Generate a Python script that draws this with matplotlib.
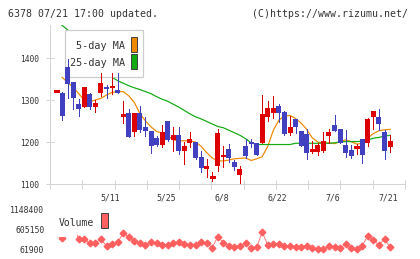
import matplotlib
matplotlib.use("Agg")
import matplotlib.pyplot as plt
import numpy as np
from matplotlib.patches import Rectangle

# ---------------- data ----------------
dates = ["5/11", "5/25", "6/8", "6/22", "7/6", "7/21"]
date_idx = [10, 20, 30, 40, 50, 60]

opens = [1321, 1317, 1379, 1344, 1290, 1284, 1314, 1284, 1317, 1330,
         1329, 1324, 1260, 1268, 1223, 1269, 1236, 1226, 1209, 1193,
         1250, 1205, 1217, 1179, 1198, 1201, 1165, 1135, 1117, 1143,
         1165, 1183, 1153, 1121, 1190, 1201, 1198, 1198, 1260, 1270,
         1286, 1271, 1222, 1255, 1226, 1219, 1181, 1177, 1179, 1215,
         1240, 1231, 1193, 1181, 1187, 1207, 1198, 1260, 1260, 1223, 1189]
highs = [1321, 1320, 1398, 1344, 1302, 1330, 1317, 1300, 1365, 1336,
         1365, 1364, 1298, 1279, 1268, 1286, 1260, 1226, 1214, 1240,
         1250, 1236, 1236, 1201, 1223, 1201, 1178, 1160, 1129, 1231,
         1190, 1195, 1157, 1143, 1206, 1206, 1198, 1312, 1298, 1310,
         1290, 1274, 1263, 1255, 1226, 1230, 1202, 1197, 1225, 1230,
         1264, 1231, 1229, 1193, 1195, 1207, 1258, 1274, 1279, 1229, 1217]
lows = [1321, 1252, 1304, 1279, 1263, 1284, 1279, 1272, 1310, 1304,
        1314, 1316, 1246, 1213, 1215, 1223, 1214, 1175, 1190, 1189,
        1203, 1179, 1172, 1148, 1189, 1159, 1129, 1117, 1108, 1132,
        1140, 1153, 1133, 1095, 1161, 1189, 1169, 1198, 1251, 1256,
        1247, 1216, 1217, 1221, 1190, 1160, 1173, 1170, 1177, 1197,
        1227, 1197, 1165, 1163, 1171, 1151, 1191, 1232, 1229, 1160, 1177]
closes = [1321, 1262, 1338, 1304, 1279, 1330, 1284, 1292, 1341, 1326,
          1333, 1316, 1267, 1213, 1268, 1229, 1227, 1191, 1193, 1223,
          1205, 1217, 1179, 1190, 1207, 1161, 1137, 1143, 1117, 1222,
          1169, 1161, 1140, 1136, 1167, 1195, 1169, 1267, 1280, 1280,
          1268, 1219, 1235, 1235, 1191, 1175, 1181, 1194, 1202, 1225,
          1227, 1197, 1173, 1167, 1187, 1169, 1255, 1274, 1242, 1179, 1203]

ma5 = [np.nan, 1354, 1342, 1330, 1315, 1300, 1296, 1300, 1304, 1312,
       1318, 1320, 1320, 1310, 1294, 1268, 1250, 1236, 1225, 1222,
       1215, 1205, 1203, 1203, 1203, 1200, 1190, 1175, 1162, 1155,
       1155, 1157, 1160, 1161, 1162, 1156, 1160, 1165, 1190, 1228,
       1252, 1262, 1263, 1256, 1245, 1230, 1210, 1200, 1197, 1198,
       1196, 1201, 1205, 1201, 1195, 1197, 1210, 1220, 1227, 1229, 1230]
ma25 = [1488, 1478, 1467, np.nan, np.nan, np.nan, np.nan, np.nan, np.nan, np.nan,
        1354, 1346, 1340, 1334, 1329, 1325, 1320, 1315, 1308, 1302,
        1297, 1290, 1283, 1275, 1267, 1260, 1255, 1249, 1243, 1237,
        1234, 1228, 1222, 1216, 1208, 1198, 1194, 1194, 1194, 1194,
        1194, 1194, 1194, 1197, 1197, 1197, 1197, 1197, 1197, 1197,
        1198, 1200, 1201, 1201, 1201, 1202, 1205, 1209, 1211, 1214, 1216]
volume = [500000, 370000, 1148400, 700000, 343000, 334000, 225000, 243000, 334000, 152000,
          198000, 252000, 497000, 406000, 288000, 243000, 180000, 270000, 225000, 180000,
          180000, 225000, 252000, 198000, 180000, 180000, 252000, 243000, 107000, 406000,
          243000, 152000, 116000, 152000, 243000, 89000, 116000, 524000, 180000, 207000,
          207000, 152000, 152000, 134000, 134000, 162000, 107000, 61900, 61900, 152000,
          116000, 89000, 207000, 89000, 61900, 162000, 433000, 315000, 180000, 343000, 116000]
vol_ticks = [61900, 605150, 1148400]
price_ticks = [1100, 1200, 1300, 1400]

# ---------------- style ----------------
W, H = 420, 259
RED = "#dd0000"
BLUE = "#4040c0"
ORANGE = "#ee8800"
GREEN = "#11aa11"
VOLC = "#ff5f5f"
GRID = "#d4d4d4"
TXT = "#333333"
MONO = "DejaVu Sans Mono"
PX = 72 / 100.0  # points per pixel

fig = plt.figure(figsize=(W / 100, H / 100), dpi=100)
fig.patch.set_facecolor("white")


def fb(x0, y0, x1, y1):
    return [x0 / W, 1 - y1 / H, (x1 - x0) / W, (y1 - y0) / H]


n = len(opens)
x = np.arange(n)
xlim = (-1.17, 62.68)

ax = fig.add_axes(fb(50, 25, 405, 184))
ax.set_xlim(*xlim)
ax.set_ylim(1100, 1478.6)
for s in ["top", "right"]:
    ax.spines[s].set_visible(False)
for s in ["left", "bottom"]:
    ax.spines[s].set_color(GRID)
    ax.spines[s].set_linewidth(1 * PX)

ax.set_yticks(price_ticks)
ax.set_yticklabels([str(v) for v in price_ticks], fontfamily=MONO, fontsize=5.7, color=TXT)
ax.tick_params(axis="y", direction="inout", length=8 * PX, width=PX, color=GRID, pad=6.5 * PX)
ax.set_xticks(np.linspace(xlim[0], xlim[1], 12))
ax.set_xticklabels([])
ax.tick_params(axis="x", direction="inout", length=9 * PX, width=PX, color=GRID)

for d, i in zip(dates, date_idx):
    ax.annotate(d, xy=(i, 0), xycoords=("data", "axes fraction"),
                xytext=(-1.5 * PX, -14.3 * PX), textcoords="offset points",
                ha="center", va="center", fontfamily=MONO, fontsize=5.9, color=TXT)

# moving averages (below legend)
ax.plot(x, ma5, color=ORANGE, lw=1.0 * PX * 1.2, zorder=2)
ax.plot(x, ma25, color=GREEN, lw=1.0 * PX * 1.2, zorder=2)


def arect(axis, x0, y0, x1, y1, **kw):
    r = Rectangle((x0 / W, 1 - y1 / H), (x1 - x0) / W, (y1 - y0) / H,
                  transform=fig.transFigure, clip_on=False, **kw)
    axis.add_patch(r)
    return r


# price legend (above MA lines, below candles)
arect(ax, 65.3, 30, 143.3, 77.3, facecolor="white", edgecolor="#cccccc", lw=1.2 * PX, zorder=2.5)
ax.text(125.5 / W, 1 - 46 / H, "5-day MA", ha="right", va="center", transform=fig.transFigure,
        fontfamily=MONO, fontsize=7.3, color=TXT, zorder=2.6)
ax.text(125.5 / W, 1 - 63 / H, "25-day MA", ha="right", va="center", transform=fig.transFigure,
        fontfamily=MONO, fontsize=7.3, color=TXT, zorder=2.6)
arect(ax, 131.3, 37.3, 137.3, 52, facecolor=ORANGE, edgecolor="#444444", lw=1 * PX, zorder=2.6)
arect(ax, 131.3, 54.5, 137.3, 69.3, facecolor=GREEN, edgecolor="#444444", lw=1 * PX, zorder=2.6)

# candles
bw = 0.9
for i in range(n):
    o, h, l, c = opens[i], highs[i], lows[i], closes[i]
    col = RED if c >= o else BLUE
    if h > l:
        ax.vlines(i, l, h, color=col, lw=1.0 * PX, zorder=3, antialiased=False)
    if c == o:
        ax.hlines(o, i - bw / 2, i + bw / 2, color=col, lw=1.3 * PX, zorder=3, antialiased=False)
    else:
        ax.bar(i, abs(c - o), bottom=min(o, c), width=bw, color=col, lw=0,
               zorder=4, antialiased=False)

# volume panel
vax = fig.add_axes(fb(50, 209.3, 405, 249.3))
vax.set_xlim(*xlim)
vax.set_ylim(vol_ticks[0], vol_ticks[-1])
for s in vax.spines.values():
    s.set_visible(False)
vax.set_xticks([])
vax.set_yticks(vol_ticks)
vax.set_yticklabels([str(v) for v in vol_ticks], fontfamily=MONO, fontsize=5.9, color=TXT)
vax.tick_params(axis="y", length=0, pad=5.7 * PX)
vax.plot(x, volume, color=VOLC, lw=0.8 * PX, marker="D", ms=3.4, mec=VOLC, mfc=VOLC,
         clip_on=False, zorder=3)

arect(vax, 50.5, 200, 76.5, 237.3, facecolor="white", edgecolor="none", zorder=10)
vax.text(58.3 / W, 1 - 222.5 / H, "Volume", ha="left", va="center", transform=fig.transFigure,
         fontfamily=MONO, fontsize=7.0, color=TXT, zorder=11)
arect(vax, 101, 213.3, 107.7, 228.3, facecolor="#ff6060", edgecolor="#444444", lw=1 * PX, zorder=11)

# header texts
fig.text(8.3 / W, 1 - 13.7 / H, "6378 07/21 17:00 updated.", ha="left", va="center",
         fontfamily=MONO, fontsize=7.1, color=TXT)
fig.text(408.3 / W, 1 - 13.7 / H, "(C)https://www.rizumu.net/", ha="right", va="center",
         fontfamily=MONO, fontsize=7.1, color=TXT)

fig.savefig("out.png", dpi=100, facecolor="white")
